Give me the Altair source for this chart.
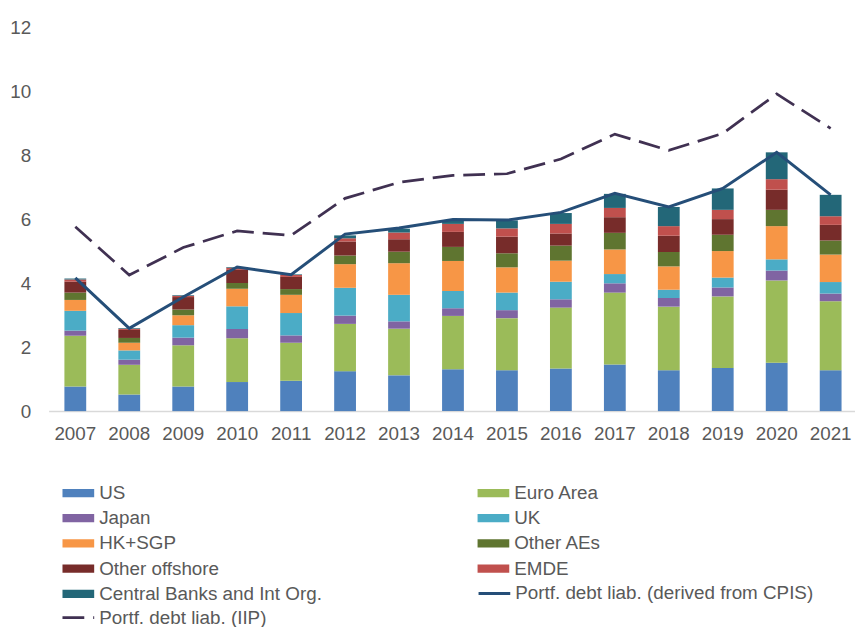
import altair as alt
import pandas as pd

FONT = "Liberation Sans"
TXT = "#595959"

years = ["2007", "2008", "2009", "2010", "2011", "2012", "2013", "2014",
         "2015", "2016", "2017", "2018", "2019", "2020", "2021"]

us          = [0.77, 0.52, 0.77, 0.91, 0.95, 1.25, 1.12, 1.31, 1.28, 1.33, 1.46, 1.28, 1.35, 1.51, 1.28]
euro_area   = [1.59, 0.93, 1.29, 1.37, 1.19, 1.48, 1.46, 1.67, 1.63, 1.91, 2.25, 1.99, 2.24, 2.58, 2.16]
japan       = [0.16, 0.16, 0.24, 0.29, 0.23, 0.26, 0.23, 0.24, 0.25, 0.26, 0.29, 0.27, 0.28, 0.31, 0.24]
uk          = [0.62, 0.29, 0.39, 0.71, 0.70, 0.87, 0.83, 0.54, 0.55, 0.55, 0.29, 0.26, 0.31, 0.35, 0.36]
hk_sgp      = [0.34, 0.24, 0.31, 0.55, 0.57, 0.74, 0.99, 0.94, 0.79, 0.66, 0.77, 0.73, 0.83, 1.04, 0.86]
other_aes   = [0.23, 0.15, 0.18, 0.18, 0.18, 0.27, 0.36, 0.44, 0.44, 0.47, 0.52, 0.45, 0.51, 0.51, 0.44]
other_off   = [0.34, 0.25, 0.39, 0.41, 0.38, 0.44, 0.39, 0.47, 0.52, 0.38, 0.49, 0.51, 0.49, 0.63, 0.49]
emde        = [0.07, 0.04, 0.04, 0.07, 0.06, 0.10, 0.21, 0.25, 0.26, 0.30, 0.29, 0.30, 0.29, 0.33, 0.27]
cb_intorg   = [0.03, 0.02, 0.02, 0.02, 0.02, 0.09, 0.12, 0.10, 0.25, 0.34, 0.44, 0.60, 0.67, 0.84, 0.67]

cpis_line   = [4.17, 2.59, 3.57, 4.51, 4.27, 5.54, 5.73, 6.00, 5.98, 6.22, 6.82, 6.39, 6.97, 8.10, 6.77]
iip_line    = [5.77, 4.26, 5.12, 5.64, 5.50, 6.66, 7.16, 7.38, 7.43, 7.89, 8.67, 8.16, 8.69, 9.93, 8.85]

series_names = ["US", "Euro Area", "Japan", "UK", "HK+SGP", "Other AEs",
                "Other offshore", "EMDE", "Central Banks and Int Org."]
series_values = [us, euro_area, japan, uk, hk_sgp, other_aes, other_off, emde, cb_intorg]
series_colors = ["#4F81BD", "#9BBB59", "#8064A2", "#4BACC6", "#F79646",
                 "#5F7530", "#772C2A", "#C0504D", "#236778"]

CPIS_NAME = "Portf. debt liab. (derived from CPIS)"
IIP_NAME = "Portf. debt liab. (IIP)"

rows = []
for k, (name, vals) in enumerate(zip(series_names, series_values)):
    for yr, v in zip(years, vals):
        rows.append({"year": yr, "series": name, "value": v, "order": k})
bars_df = pd.DataFrame(rows)
cpis_df = pd.DataFrame({"year": years, "value": cpis_line, "series": CPIS_NAME})
iip_df = pd.DataFrame({"year": years, "value": iip_line, "series": IIP_NAME})

x_axis = alt.Axis(title=None, labelAngle=0, labelFont=FONT, labelFontSize=19,
                  labelColor=TXT, ticks=False, tickSize=0, domainColor="#D9D9D9",
                  domainWidth=1.5, labelPadding=14, grid=False)
y_axis = alt.Axis(title=None, values=[0, 2, 4, 6, 8, 10, 12], labelFont=FONT,
                  labelFontSize=19, labelColor=TXT, ticks=False, tickSize=0,
                  domain=False, grid=False, labelPadding=18)
x_scale = alt.Scale(paddingInner=0.596, paddingOuter=0.271, align=0.54)
y_scale = alt.Scale(domain=[0, 12], nice=False)

RECT = "M-3.2,-0.85L3.2,-0.85L3.2,0.85L-3.2,0.85Z"
LINE = "M-3.2,0L3.2,0"

common_leg = dict(orient="none", title=None, labelFont=FONT, labelFontSize=19,
                  labelColor=TXT, labelLimit=500, symbolSize=100,
                  labelOffset=11.5, symbolOffset=0)

bars = alt.Chart(bars_df).mark_bar().encode(
    x=alt.X("year:N", sort=years, scale=x_scale, axis=x_axis),
    y=alt.Y("value:Q", stack="zero", scale=y_scale, axis=y_axis),
    fill=alt.Fill("series:N", scale=alt.Scale(domain=series_names, range=series_colors),
                  legend=alt.Legend(columns=2, direction="horizontal", columnPadding=156,
                                    rowPadding=5.5, legendX=20.5, legendY=460,
                                    symbolType=RECT, symbolStrokeWidth=0, **common_leg)),
    order=alt.Order("order:Q", sort="ascending"),
)

cpis = alt.Chart(cpis_df).mark_line(strokeWidth=3).encode(
    x=alt.X("year:N", sort=years, scale=x_scale, axis=x_axis),
    y=alt.Y("value:Q", scale=y_scale, axis=y_axis),
    stroke=alt.Stroke("series:N", scale=alt.Scale(domain=[CPIS_NAME], range=["#254E78"]),
                      legend=alt.Legend(legendX=440.5, legendY=561.5, symbolType=LINE,
                                        symbolStrokeWidth=3, **common_leg)),
)

iip = alt.Chart(iip_df).mark_line(strokeWidth=2.75, color="#403152").encode(
    x=alt.X("year:N", sort=years, scale=x_scale, axis=x_axis),
    y=alt.Y("value:Q", scale=y_scale, axis=y_axis),
    strokeDash=alt.StrokeDash("series:N", scale=alt.Scale(domain=[IIP_NAME], range=[[22, 9]]),
                              legend=alt.Legend(legendX=20.5, legendY=586, symbolType=LINE,
                                                symbolStrokeWidth=2.75,
                                                symbolStrokeColor="#403152", **common_leg)),
)

chart = alt.layer(bars, cpis, iip).properties(
    width=814, height=387,
    autosize=alt.AutoSizeParams(type="none"),
    padding={"left": 41, "top": 17, "right": 0, "bottom": 215},
).configure_view(stroke=None)

chart.save("out.html", embed_options={"renderer": "svg", "actions": False})
